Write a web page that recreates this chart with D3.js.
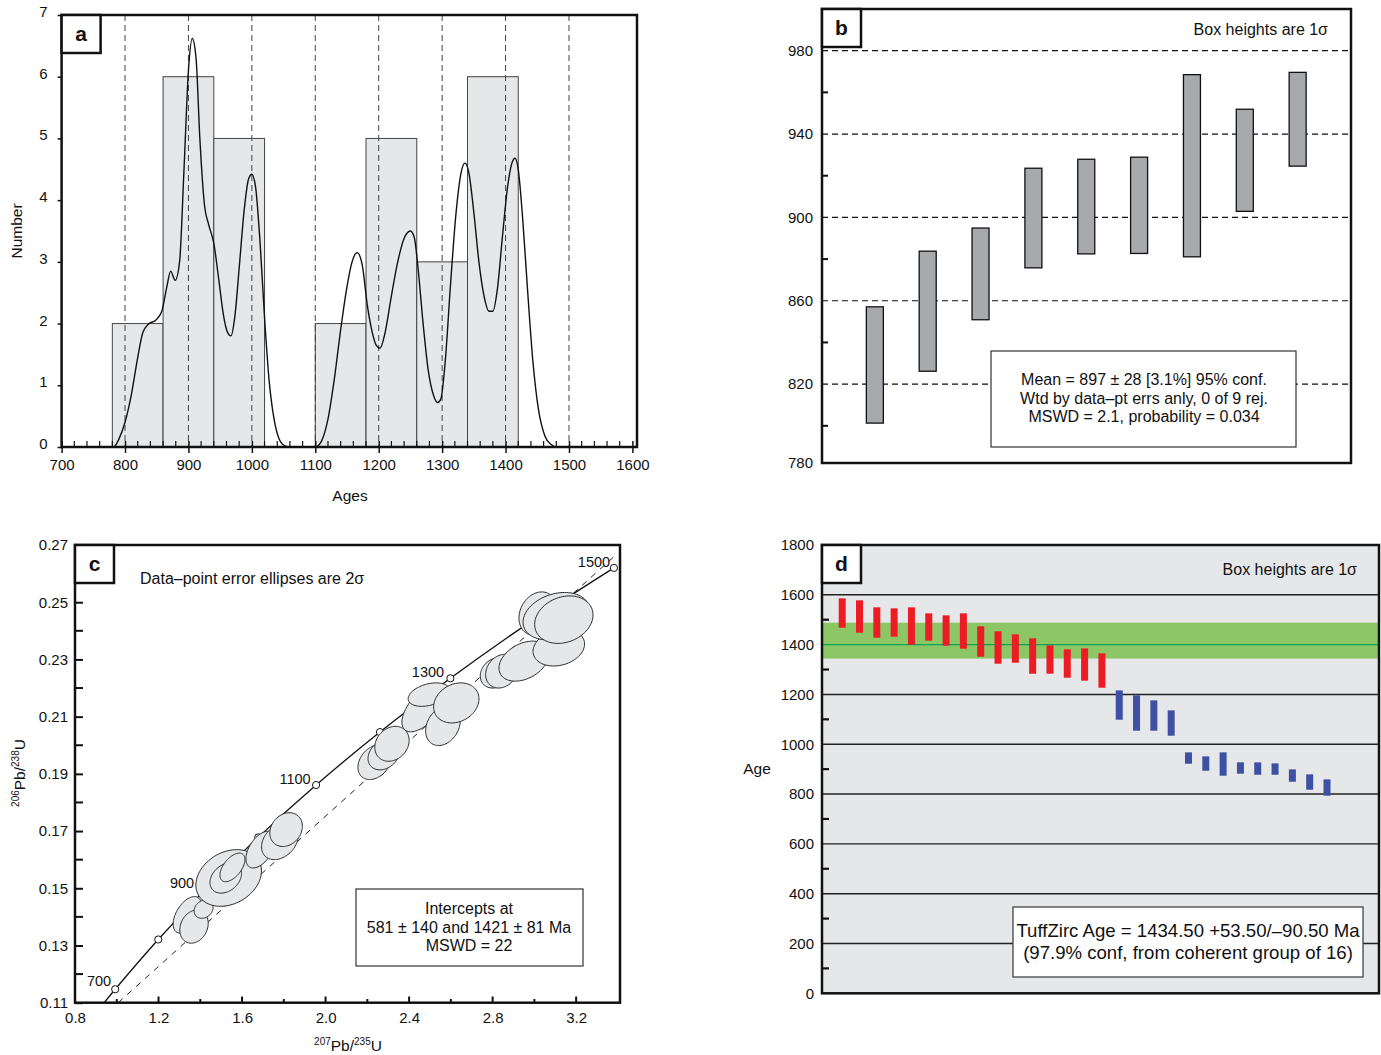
<!DOCTYPE html>
<html>
<head>
<meta charset="utf-8">
<script src="https://cdn.jsdelivr.net/npm/d3@7"></script>
<style>
  body { margin: 0; background: #fff; }
  svg text { font-family: "Liberation Sans", Arial, sans-serif; fill: #111; }
  .tk text { font-family: "Liberation Sans Narrow", "Liberation Sans", Arial, sans-serif; font-size: 15px; }
</style>
</head>
<body>
<svg id="chart" width="1381" height="1055"></svg>
<script>
// ---- panel a: histogram + probability curve ----
const binStarts = [780, 860, 940, 1020, 1100, 1180, 1260, 1340];
const binCounts = [2, 6, 5, 0, 2, 5, 3, 6];
const binWidth = 80;
const densityAges = [770, 782, 790, 800, 810, 820, 828, 838, 848, 858, 866, 872, 879, 886, 893, 900, 906, 912, 918, 925,
  932, 940, 948, 955, 962, 967, 973, 980, 988, 995, 1000, 1006, 1013, 1020, 1027, 1035, 1043, 1052, 1060, 1100,
  1110, 1120, 1130, 1140, 1150, 1158, 1166, 1174, 1182, 1190, 1196, 1202, 1210, 1220, 1230, 1240, 1250, 1256,
  1262, 1270, 1278, 1286, 1293, 1298, 1305, 1313, 1322, 1330, 1336, 1342, 1350, 1358, 1366, 1374, 1380, 1387,
  1395, 1403, 1410, 1415, 1420, 1427, 1435, 1443, 1452, 1462, 1472, 1480, 1500];
const densityValues = [0, 0, 0.12, 0.4, 0.85, 1.45, 1.85, 2.0, 2.05, 2.2, 2.6, 2.85, 2.7, 3.0, 4.5, 6.1, 6.62, 6.3, 5.0, 3.95,
  3.6, 3.3, 2.7, 2.15, 1.85, 1.8, 2.1, 2.9, 3.85, 4.35, 4.42, 4.2, 3.3, 2.1, 1.1, 0.45, 0.13, 0.02, 0, 0,
  0.1, 0.45, 1.1, 1.9, 2.6, 3.0, 3.15, 2.95, 2.3, 1.85, 1.65, 1.6, 1.85, 2.45, 3.0, 3.38, 3.5, 3.4,
  2.9, 2.0, 1.25, 0.85, 0.72, 0.78, 1.4, 2.6, 3.8, 4.45, 4.6, 4.45, 3.8, 3.0, 2.45, 2.2, 2.2, 2.55,
  3.4, 4.2, 4.6, 4.68, 4.5, 3.7, 2.5, 1.4, 0.6, 0.18, 0.04, 0, 0];
const ageTicks = [700, 800, 900, 1000, 1100, 1200, 1300, 1400, 1500, 1600];
const countTicks = [0, 1, 2, 3, 4, 5, 6, 7];
const refAges = [800, 900, 1000, 1100, 1200, 1300, 1400, 1500];

// ---- panel b: weighted mean ----
const wmMeans = [829.2, 855.0, 872.9, 899.7, 905.2, 905.8, 924.8, 927.4, 947.1];
const wmSigmas = [27.9, 28.8, 22.0, 23.9, 22.7, 23.1, 43.7, 24.5, 22.5];
const bTicks = [780, 820, 860, 900, 940, 980];
const bRefLines = [820, 860, 900, 940, 980];
const bMinor = [800, 840, 880, 920, 960];
const bNotes = ['Mean = 897 ± 28 [3.1%] 95% conf.', 'Wtd by data–pt errs anly, 0 of 9 rej.', 'MSWD = 2.1, probability = 0.034'];

// ---- panel c: concordia ----
const concAges = [650, 700, 800, 900, 1000, 1100, 1200, 1300, 1400, 1500];
const concX = [0.8968, 0.9925, 1.1988, 1.4264, 1.6775, 1.9546, 2.2605, 2.5978, 2.9700, 3.3809];
const concY = [0.1061, 0.1147, 0.1321, 0.1498, 0.1678, 0.1861, 0.2046, 0.2234, 0.2426, 0.2620];
const concLabels = ['700', '900', '1100', '1300', '1500'];
const discordX = [1.007, 3.39];
const discordY = [0.11, 0.2665];
const ellX = [1.338, 1.370, 1.416, 1.536, 1.522, 1.554, 1.688, 1.781, 1.811, 2.235, 2.279, 2.318, 2.471, 2.495, 2.562, 2.626,
  2.815, 2.844, 2.950, 3.117, 3.017, 3.105, 3.141];
const ellY = [0.1407, 0.1366, 0.1427, 0.1536, 0.1536, 0.1573, 0.1635, 0.1664, 0.1705, 0.1941, 0.1967, 0.2005, 0.2131, 0.2177,
  0.2068, 0.2148, 0.2253, 0.2259, 0.2294, 0.2341, 0.2460, 0.2451, 0.2439];
const ellSx = [0.068, 0.068, 0.0455, 0.157, 0.0756, 0.0598, 0.0694, 0.0876, 0.078, 0.080, 0.0756, 0.0823, 0.1053, 0.0995,
  0.0828, 0.1086, 0.0742, 0.0775, 0.1196, 0.1234, 0.0909, 0.1593, 0.1397];
const ellSy = [0.0064, 0.0058, 0.0032, 0.0099, 0.0053, 0.0050, 0.0064, 0.0064, 0.0059, 0.0061, 0.0053, 0.0061, 0.0084, 0.0041,
  0.0069, 0.0070, 0.0053, 0.0059, 0.0070, 0.0064, 0.0076, 0.0083, 0.0083];
const ellRho = [0.5, 0.2, 0.2, 0.25, 0.3, 0.55, 0.5, 0.3, 0.2, 0.3, 0.25, 0.2, 0.6, 0.35, 0.25, 0.2, 0.2, 0.2, 0.35, 0.2, 0.2, 0.25, 0.2];
const cXTicks = [0.8, 1.2, 1.6, 2.0, 2.4, 2.8, 3.2];
const cXMinor = [1.0, 1.4, 1.8, 2.2, 2.6, 3.0];
const cYTicks = [0.11, 0.13, 0.15, 0.17, 0.19, 0.21, 0.23, 0.25, 0.27];
const cYMinor = [0.12, 0.14, 0.16, 0.18, 0.20, 0.22, 0.24, 0.26];
const cNotes = ['Intercepts at', '581 ± 140 and 1421 ± 81 Ma', 'MSWD = 22'];

// ---- panel d: TuffZirc ----
const tzMeans = [1526.9, 1512.9, 1488.8, 1488.8, 1474.7, 1470.7, 1456.6, 1454.7, 1412.5, 1388.4, 1384.3, 1354.3, 1340.2,
  1324.1, 1320.1, 1296.0, 1157.4, 1125.4, 1115.3, 1085.2, 944.6, 922.5, 920.5, 904.5, 902.4, 900.4, 874.3, 848.2, 826.1];
const tzSigmas = [58.9, 65.0, 61.0, 56.9, 75.0, 54.9, 60.9, 71.0, 61.0, 65.0, 56.9, 71.0, 56.9, 56.9, 64.9, 69.0, 58.9,
  71.0, 60.9, 50.9, 22.8, 28.8, 46.9, 22.8, 24.8, 22.8, 24.8, 30.8, 32.8];
const tzCoherent = 16;
const tzAge = 1434.5, tzPlus = 53.5, tzMinus = 90.5;
const dTicks = [0, 200, 400, 600, 800, 1000, 1200, 1400, 1600, 1800];
const dGrid = [200, 400, 600, 800, 1000, 1200, 1400, 1600];
const dMinor = [100, 300, 500, 700, 900, 1100, 1300, 1500, 1700];
const dNotes = ['TuffZirc Age = 1434.50 +53.50/–90.50 Ma', '(97.9% conf, from coherent group of 16)'];

const svg = d3.select('#chart');

function styleAxis(g, size) {
  g.select('.domain').remove();
  g.attr('class', 'tk');
  g.selectAll('.tick line').attr('stroke', '#111').attr('stroke-width', 1.5);
  g.selectAll('.tick text').style('font-size', (size || 15) + 'px');
}

function panelLabel(x, y, letter) {
  svg.append('rect').attr('x', x).attr('y', y).attr('width', 39).attr('height', 38)
    .attr('fill', '#fff').attr('stroke', '#111').attr('stroke-width', 2.5);
  svg.append('text').attr('x', x + 19.5).attr('y', y + 26).attr('text-anchor', 'middle')
    .style('font-size', '21px').style('font-weight', 'bold').text(letter);
}

function frame(x0, y0, x1, y1) {
  svg.append('rect').attr('x', x0).attr('y', y0).attr('width', x1 - x0).attr('height', y1 - y0)
    .attr('fill', 'none').attr('stroke', '#111').attr('stroke-width', 2.5);
}

// ================= panel a =================
{
  const xa = d3.scaleLinear().domain([700, 1600]).range([61.6, 632.4]);
  const ya = d3.scaleLinear().domain([0, 7]).range([447, 15]);
  const g = svg.append('g');

  g.selectAll('rect.bin').data(binStarts).join('rect')
    .attr('x', d => xa(d)).attr('width', d => xa(d + binWidth) - xa(d))
    .attr('y', (d, i) => ya(binCounts[i])).attr('height', (d, i) => ya(0) - ya(binCounts[i]))
    .attr('fill', '#e6e7e8').attr('stroke', '#444').attr('stroke-width', 1);

  g.selectAll('line.ref').data(refAges).join('line')
    .attr('x1', d => xa(d)).attr('x2', d => xa(d)).attr('y1', 15).attr('y2', 447)
    .attr('stroke', '#444').attr('stroke-width', 1).attr('stroke-dasharray', '6,4');

  const line = d3.line().x((d, i) => xa(densityAges[i])).y(d => ya(d)).curve(d3.curveMonotoneX);
  g.append('path').attr('d', line(densityValues)).attr('fill', 'none')
    .attr('stroke', '#111').attr('stroke-width', 1.4);

  // minor ticks every 20 on age axis
  const minor = d3.range(720, 1600, 20).filter(v => v % 100 !== 0);
  g.selectAll('line.mt').data(minor).join('line')
    .attr('x1', d => xa(d)).attr('x2', d => xa(d)).attr('y1', 447).attr('y2', 441)
    .attr('stroke', '#111').attr('stroke-width', 1.2);

  const ax = g.append('g').attr('transform', 'translate(0,447)')
    .call(d3.axisBottom(xa).tickValues(ageTicks).tickSizeInner(6).tickSizeOuter(0).tickPadding(6).tickFormat(d3.format('d')));
  styleAxis(ax);
  ax.selectAll('.tick line').attr('y1', -6);
  const ay = g.append('g').attr('transform', 'translate(61.6,0)')
    .call(d3.axisLeft(ya).tickValues(countTicks).tickSize(4).tickPadding(10).tickFormat(d3.format('d')));
  styleAxis(ay);
  ay.selectAll('.tick text').attr('dy', '0.1em');

  frame(61.6, 15, 637, 447);
  panelLabel(61.6, 15, 'a');

  g.append('text').attr('transform', 'translate(22,231) rotate(-90)').attr('text-anchor', 'middle')
    .style('font-size', '15.5px').text('Number');
  g.append('text').attr('x', 350).attr('y', 501).attr('text-anchor', 'middle')
    .style('font-size', '15.5px').text('Ages');
}

// ================= panel b =================
{
  const xb = d3.scaleLinear().domain([0, 10]).range([822, 1350.5]);
  const yb = d3.scaleLinear().domain([780, 1000]).range([467.5, 9]);
  const g = svg.append('g');

  g.selectAll('line.ref').data(bRefLines).join('line')
    .attr('x1', 822).attr('x2', 1351).attr('y1', d => yb(d)).attr('y2', d => yb(d))
    .attr('stroke', '#111').attr('stroke-width', 1.2).attr('stroke-dasharray', '6,4');

  g.selectAll('rect.box').data(wmMeans).join('rect')
    .attr('x', (d, i) => xb(i + 1) - 8.5).attr('width', 17)
    .attr('y', (d, i) => yb(d + wmSigmas[i])).attr('height', (d, i) => yb(d - wmSigmas[i]) - yb(d + wmSigmas[i]))
    .attr('fill', '#a7a9ac').attr('stroke', '#111').attr('stroke-width', 1.3);

  g.selectAll('line.mn').data(bMinor).join('line')
    .attr('x1', 822).attr('x2', 828).attr('y1', d => yb(d)).attr('y2', d => yb(d))
    .attr('stroke', '#111').attr('stroke-width', 2);

  const ay = g.append('g').attr('transform', 'translate(822,0)')
    .call(d3.axisLeft(yb).tickValues(bTicks).tickSize(0).tickPadding(9).tickFormat(d3.format('d')));
  styleAxis(ay);
  ay.selectAll('.tick').filter(d => d === 780).attr('transform', 'translate(0,463)');

  g.append('rect').attr('x', 991).attr('y', 351).attr('width', 305).attr('height', 96)
    .attr('fill', '#fff').attr('stroke', '#333').attr('stroke-width', 1.2);
  g.selectAll('text.note').data(bNotes).join('text')
    .attr('x', 1144).attr('y', (d, i) => 385 + i * 18.5).attr('text-anchor', 'middle')
    .style('font-size', '16px').text(d => d);
  g.append('text').attr('x', 1328).attr('y', 34.5).attr('text-anchor', 'end')
    .style('font-size', '16px').text('Box heights are 1σ');

  frame(822, 9, 1351, 463);
  panelLabel(822, 9, 'b');
}

// ================= panel c =================
{
  const xc = d3.scaleLinear().domain([0.8, 3.41]).range([75, 620]);
  const yc = d3.scaleLinear().domain([0.11, 0.27]).range([1002.7, 545]);
  const g = svg.append('g');
  svg.append('clipPath').attr('id', 'clipc').append('rect')
    .attr('x', 75).attr('y', 545).attr('width', 545).attr('height', 457.7);
  const inner = g.append('g').attr('clip-path', 'url(#clipc)');

  inner.append('line')
    .attr('x1', xc(discordX[0])).attr('y1', yc(discordY[0])).attr('x2', xc(discordX[1])).attr('y2', yc(discordY[1]))
    .attr('stroke', '#222').attr('stroke-width', 1).attr('stroke-dasharray', '6,6');
  const cl = d3.line().x((d, i) => xc(concX[i])).y(d => yc(d)).curve(d3.curveCatmullRom);
  inner.append('path').attr('d', cl(concY)).attr('fill', 'none').attr('stroke', '#111').attr('stroke-width', 1.3);
  inner.selectAll('circle.age').data(concAges.slice(1)).join('circle')
    .attr('cx', (d, i) => xc(concX[i + 1])).attr('cy', (d, i) => yc(concY[i + 1])).attr('r', 3.6)
    .attr('fill', '#fff').attr('stroke', '#111').attr('stroke-width', 1);

  function ellPath(i) {
    const r = ellRho[i], q = Math.sqrt(1 - r * r);
    const pts = d3.range(0, 360, 4).map(a => {
      const t = a * Math.PI / 180;
      return [xc(ellX[i] + ellSx[i] * Math.cos(t)), yc(ellY[i] + ellSy[i] * (r * Math.cos(t) + q * Math.sin(t)))];
    });
    return d3.line().curve(d3.curveCardinalClosed)(pts);
  }
  inner.selectAll('path.ell').data(ellX).join('path')
    .attr('d', (d, i) => ellPath(i))
    .attr('fill', '#e6e7e8').attr('stroke', '#2a2a2a').attr('stroke-width', 1);

  // age labels on concordia
  const labelPos = { '700': [99, 986], '900': [182, 888], '1100': [295, 784], '1300': [428, 677], '1500': [594, 567] };
  g.selectAll('text.age').data(concLabels).join('text')
    .attr('x', d => labelPos[d][0]).attr('y', d => labelPos[d][1]).attr('text-anchor', 'middle')
    .style('font-family', '"Liberation Sans Narrow", "Liberation Sans", Arial, sans-serif')
    .style('font-size', '14.5px').text(d => d);

  g.selectAll('line.xm').data(cXMinor).join('line')
    .attr('x1', d => xc(d)).attr('x2', d => xc(d)).attr('y1', 1002.7).attr('y2', 999)
    .attr('stroke', '#111').attr('stroke-width', 2);
  g.selectAll('line.ym').data(cYMinor).join('line')
    .attr('x1', 75).attr('x2', 83).attr('y1', d => yc(d)).attr('y2', d => yc(d))
    .attr('stroke', '#111').attr('stroke-width', 2);

  const ax = g.append('g').attr('transform', 'translate(0,1002.7)')
    .call(d3.axisBottom(xc).tickValues(cXTicks).tickSize(0).tickPadding(10).tickFormat(d3.format('.1f')));
  styleAxis(ax);
  g.selectAll('line.xM').data(cXTicks.slice(1)).join('line')
    .attr('x1', d => xc(d)).attr('x2', d => xc(d)).attr('y1', 1002.7).attr('y2', 996.5)
    .attr('stroke', '#111').attr('stroke-width', 2);
  const ay = g.append('g').attr('transform', 'translate(75,0)')
    .call(d3.axisLeft(yc).tickValues(cYTicks).tickSizeInner(-8).tickSizeOuter(0).tickPadding(8).tickFormat(d3.format('.2f')));
  styleAxis(ay);
  ay.selectAll('.tick text').attr('x', -7);
  ay.selectAll('.tick line').attr('stroke-width', 2);

  frame(75, 545, 620, 1002.7);
  panelLabel(75, 545, 'c');

  g.append('text').attr('x', 140).attr('y', 583.5).style('font-size', '16px').text('Data–point error ellipses are 2σ');

  g.append('rect').attr('x', 356).attr('y', 889).attr('width', 227).attr('height', 77)
    .attr('fill', '#fff').attr('stroke', '#333').attr('stroke-width', 1.2);
  g.selectAll('text.note').data(cNotes).join('text')
    .attr('x', 469).attr('y', (d, i) => 914 + i * 18.5).attr('text-anchor', 'middle')
    .style('font-size', '16px').text(d => d);

  const xl = g.append('text').attr('x', 348).attr('y', 1051).attr('text-anchor', 'middle').style('font-size', '15.5px');
  xl.append('tspan').attr('dy', -6).style('font-size', '10px').text('207');
  xl.append('tspan').attr('dy', 6).text('Pb/');
  xl.append('tspan').attr('dy', -6).style('font-size', '10px').text('235');
  xl.append('tspan').attr('dy', 6).text('U');
  const yl = g.append('text').attr('transform', 'translate(25,773) rotate(-90)').attr('text-anchor', 'middle').style('font-size', '15.5px');
  yl.append('tspan').attr('dy', -6).style('font-size', '10px').text('206');
  yl.append('tspan').attr('dy', 6).text('Pb/');
  yl.append('tspan').attr('dy', -6).style('font-size', '10px').text('238');
  yl.append('tspan').attr('dy', 6).text('U');
}

// ================= panel d =================
{
  const xd = d3.scaleLinear().domain([0, tzMeans.length - 1]).range([842.2, 1327]);
  const yd = d3.scaleLinear().domain([0, 1800]).range([993.3, 545]);
  const g = svg.append('g');

  g.append('rect').attr('x', 822).attr('y', 545).attr('width', 557).attr('height', 448.3).attr('fill', '#e6e7e8');
  g.append('rect').attr('x', 822).attr('y', yd(tzAge + tzPlus)).attr('width', 557)
    .attr('height', yd(tzAge - tzMinus) - yd(tzAge + tzPlus)).attr('fill', '#8cc665');
  g.selectAll('line.grid').data(dGrid).join('line')
    .attr('x1', 822).attr('x2', 1379).attr('y1', d => yd(d)).attr('y2', d => yd(d))
    .attr('stroke', d => d === 1400 ? '#00a651' : '#222').attr('stroke-width', 1.4);

  g.selectAll('rect.bar').data(tzMeans).join('rect')
    .attr('x', (d, i) => xd(i) - 3.5).attr('width', 7)
    .attr('y', (d, i) => yd(d + tzSigmas[i])).attr('height', (d, i) => yd(d - tzSigmas[i]) - yd(d + tzSigmas[i]))
    .attr('fill', (d, i) => i < tzCoherent ? '#ed1c24' : '#3d50a3');

  g.selectAll('line.mn').data(dMinor).join('line')
    .attr('x1', 822).attr('x2', 829).attr('y1', d => yd(d)).attr('y2', d => yd(d))
    .attr('stroke', '#111').attr('stroke-width', 2.2);

  const ay = g.append('g').attr('transform', 'translate(822,0)')
    .call(d3.axisLeft(yd).tickValues(dTicks).tickSize(0).tickPadding(8).tickFormat(d3.format('d')));
  styleAxis(ay);

  g.append('rect').attr('x', 1013).attr('y', 907).attr('width', 350).attr('height', 70)
    .attr('fill', '#fff').attr('stroke', '#444').attr('stroke-width', 1.3);
  g.selectAll('text.note').data(dNotes).join('text')
    .attr('x', 1188).attr('y', (d, i) => 937 + i * 21.5).attr('text-anchor', 'middle')
    .style('font-size', '18.6px').text(d => d);
  g.append('text').attr('x', 1357).attr('y', 574.5).attr('text-anchor', 'end')
    .style('font-size', '16px').text('Box heights are 1σ');
  g.append('text').attr('x', 757).attr('y', 774).attr('text-anchor', 'middle')
    .style('font-size', '15.5px').text('Age');

  frame(822, 545, 1379, 993.3);
  panelLabel(822, 545, 'd');
}
</script>
</body>
</html>
